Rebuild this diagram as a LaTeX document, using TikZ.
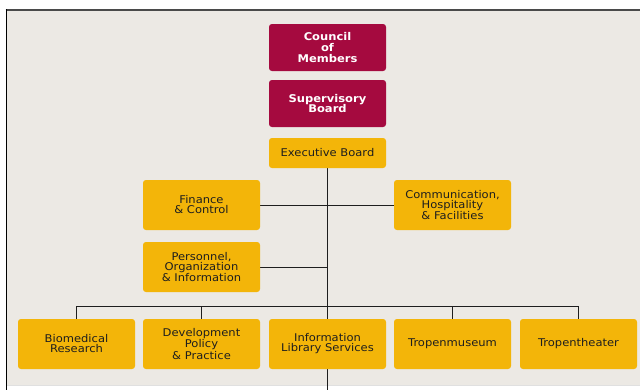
\documentclass[tikz,border=0pt]{standalone}
\usepackage{fontspec}
\newfontfamily\boxfont[FakeStretch=1.08]{DejaVu Sans}
\usetikzlibrary{positioning}
\definecolor{burg}{HTML}{A50A3F}
\definecolor{gold}{HTML}{F3B509}
\definecolor{bgc}{HTML}{ECE9E4}
\definecolor{ink}{HTML}{1E1E1E}
\definecolor{frame}{HTML}{4A4A4A}
\pgfdeclarelayer{bglayer}
\pgfdeclarelayer{linelayer}
\pgfsetlayers{bglayer,linelayer,main}
\tikzset{
  orgbox/.style={rounded corners=2.2pt, inner sep=0pt, align=center,
    minimum width=87.75pt, font=\boxfont\fontsize{8}{7.5}\selectfont},
  boardbox/.style={orgbox, fill=burg, text=white, minimum height=35.25pt,
    font=\boxfont\bfseries\fontsize{8}{8}\selectfont},
  unitbox/.style={orgbox, fill=gold, text=ink, minimum height=37.5pt},
  conn/.style={draw=ink, line width=0.7pt}
}
\begin{document}
\begin{tikzpicture}[x=0.75pt,y=-0.75pt]
\useasboundingbox (0,0) rectangle (640,390);
\begin{pgfonlayer}{bglayer}
  \fill[bgc] (6.5,10) rectangle (640,384.5);
  \draw[draw=frame, line width=1.9pt] (5.5,10) -- (640,10);
  \draw[draw=black, line width=1.1pt] (6.5,9) -- (6.5,390);
  \draw[draw=black!12, line width=0.6pt] (7,385) -- (640,385);
\end{pgfonlayer}

\node[boardbox] (council) at (327.5,47.5) {Council\\of\\Members};
\node[boardbox] (super) at (327.5,103.5) {Supervisory\\Board};
\node[unitbox, minimum height=22.5pt] (exec) at (327.5,153) {Executive Board};
\node[unitbox] (fin) at (201.5,205) {Finance\\\& Control};
\node[unitbox] (comm) at (452.5,205) {Communication,\\Hospitality\\\& Facilities};
\node[unitbox] (pers) at (201.5,267) {Personnel,\\Organization\\\& Information};
\node[unitbox] (bio) at (76.5,344) {Biomedical\\Research};
\node[unitbox] (dev) at (201.5,344) {Development\\Policy\\\& Practice};
\node[unitbox] (info) at (327.5,344) {Information\\Library Services};
\node[unitbox] (mus) at (452.5,344) {Tropenmuseum};
\node[unitbox] (the) at (578.5,344) {Tropentheater};

\coordinate (bot) at (327.5,390);
\coordinate (bus) at (0,306);

\begin{pgfonlayer}{linelayer}
  \draw[conn] (exec.south) -- (bot);
  \draw[conn] (fin.east) -- (comm.west);
  \draw[conn] (pers.east) -- (pers.east -| exec.south);
  \draw[conn] (bio.north) -- (bio.north |- bus) -- (the.north |- bus) -- (the.north);
  \draw[conn] (dev.north) -- (dev.north |- bus);
  \draw[conn] (mus.north) -- (mus.north |- bus);
\end{pgfonlayer}
\end{tikzpicture}
\end{document}
